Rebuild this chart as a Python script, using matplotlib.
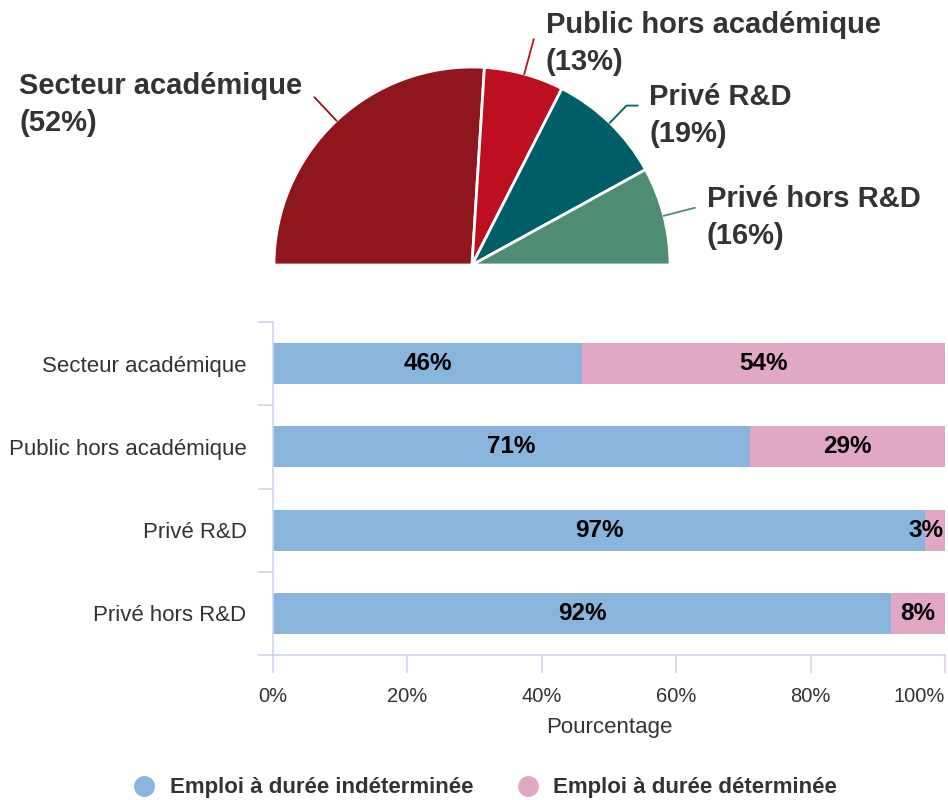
import numpy as np
import matplotlib.pyplot as plt
from matplotlib.lines import Line2D

plt.rcParams['font.family'] = ['Liberation Sans', 'DejaVu Sans']

# Répartition par secteur (demi-camembert)
secteurs = ['Secteur académique', 'Public hors académique', 'Privé R&D', 'Privé hors R&D']
parts_secteurs = [52, 13, 19, 16]
couleurs_secteurs = ['#8f161d', '#be0f20', '#005f66', '#4e8c73']

# Type de contrat par secteur (barres empilées)
indeterminee = [46, 71, 97, 92]
determinee = [54, 29, 3, 8]
series = ['Emploi à durée indéterminée', 'Emploi à durée déterminée']
couleurs_series = ['#89b4dc', '#e0a8c4']

gris_axe = '#ccd6eb'
texte = '#333333'

W, H = 948, 800
fig = plt.figure(figsize=(W / 100, H / 100), dpi=100)

# --- demi-camembert ---
cx, cy, taille = 472, 265, 400
ax_pie = fig.add_axes([(cx - taille / 2) / W, (H - cy - taille / 2) / H, taille / W, taille / H])
R = 0.99
total = sum(parts_secteurs)
wedges, _ = ax_pie.pie(parts_secteurs + [total], startangle=180, counterclock=False,
                       colors=couleurs_secteurs + ['none'], radius=R,
                       wedgeprops=dict(edgecolor='white', linewidth=2))
wedges[-1].set_visible(False)
ax_pie.set_xlim(-1, 1)
ax_pie.set_ylim(-1, 1)
ax_pie.set_aspect('equal')
ax_pie.axis('off')

# longueur du connecteur, palier horizontal et décalage vertical de chaque étiquette
rayon_fin = [1.15, 1.17, 1.11, 1.15]
palier = [0.0, 0.0, 0.055, 0.0]
decal_y = [-0.035, -0.02, -0.05, -0.05]

debut = 180.0
for i, (nom, part, coul) in enumerate(zip(secteurs, parts_secteurs, couleurs_secteurs)):
    etendue = 180.0 * part / total
    milieu = np.deg2rad(debut - etendue / 2)
    debut -= etendue
    x0, y0 = R * np.cos(milieu), R * np.sin(milieu)
    x1, y1 = rayon_fin[i] * np.cos(milieu), rayon_fin[i] * np.sin(milieu)
    sens = 1 if np.cos(milieu) >= 0 else -1
    x2 = x1 + sens * palier[i]
    ax_pie.plot([x0, x1, x2], [y0, y1, y1], color=coul, lw=1.3, clip_on=False)
    ax_pie.text(x2 + sens * 0.06, y1 + decal_y[i], f'{nom}\n({part}%)',
                ha='left' if sens > 0 else 'right', va='center', multialignment='left',
                fontsize=21, fontweight='bold', color=texte, linespacing=1.4, clip_on=False)

# --- barres empilées ---
x_gauche, x_droite, y_haut, y_bas = 273, 945, 322, 655
ax = fig.add_axes([x_gauche / W, (H - y_bas) / H, (x_droite - x_gauche) / W, (y_bas - y_haut) / H])
pos = np.arange(len(secteurs))
ax.barh(pos, indeterminee, height=0.49, color=couleurs_series[0])
ax.barh(pos, determinee, left=indeterminee, height=0.49, color=couleurs_series[1])

style_val = dict(fontsize=17.5, fontweight='bold', color='black', va='center')
for p, a, b in zip(pos, indeterminee, determinee):
    ax.text(a / 2, p, f'{a}%', ha='center', **style_val)
    if b >= 5:
        ax.text(a + b / 2, p, f'{b}%', ha='center', **style_val)
    else:
        # segment trop étroit : étiquette calée sur le bout de la barre
        ax.text(a + b - 0.3, p, f'{b}%', ha='right', **style_val)

ax.set_xlim(0, 100)
ax.set_ylim(len(secteurs) - 0.5, -0.5)
ax.set_xticks(np.arange(0, 101, 20))
ax.set_xticklabels([f'{v}%' for v in range(0, 101, 20)])
ax.get_xticklabels()[-1].set_horizontalalignment('right')
ax.set_yticks(np.arange(-0.5, len(secteurs), 1))
ax.set_yticklabels([])
ax.set_yticks(pos, minor=True)
ax.set_yticklabels(secteurs, minor=True)
ax.tick_params(axis='y', which='major', length=11, color=gris_axe, width=1.2)
ax.tick_params(axis='y', which='minor', length=0, pad=19, labelsize=16, labelcolor=texte)
ax.tick_params(axis='x', length=13, color=gris_axe, width=1.2, pad=10,
               labelsize=14.5, labelcolor=texte)
ax.set_xlabel('Pourcentage', fontsize=16, color=texte, labelpad=8)
for cote in ['top', 'right']:
    ax.spines[cote].set_visible(False)
for cote in ['left', 'bottom']:
    ax.spines[cote].set_color(gris_axe)
    ax.spines[cote].set_linewidth(1.2)

# --- légende ---
poignees = [Line2D([], [], marker='o', ls='', markersize=14, color=c) for c in couleurs_series]
fig.legend(poignees, series, loc='center', bbox_to_anchor=(485 / W, 1 - 788 / H), ncol=2,
           frameon=False, prop=dict(size=16, weight='bold'), labelcolor=texte,
           handletextpad=0.64, columnspacing=1.95, handlelength=1.0)

fig.savefig('out.png', dpi=100)
